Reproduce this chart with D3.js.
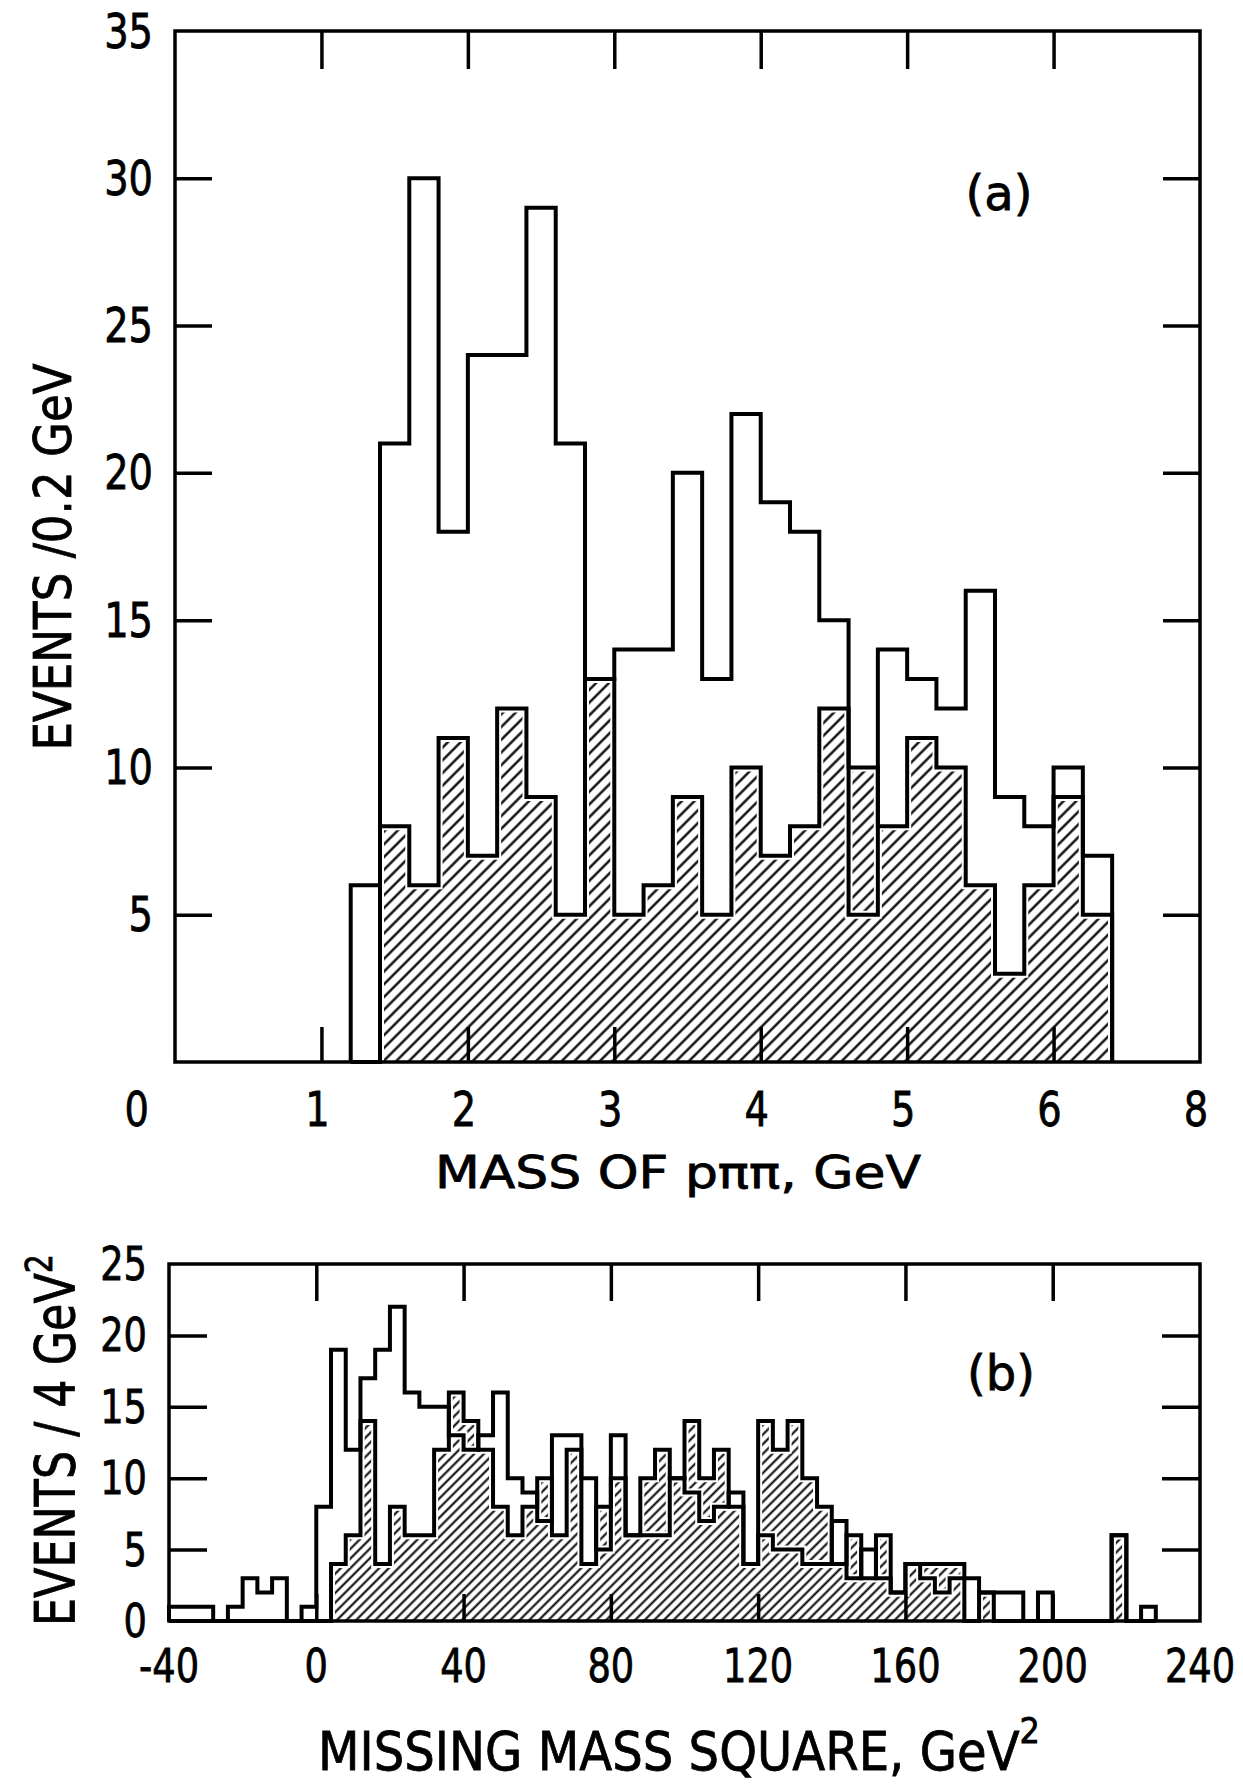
<!DOCTYPE html>
<html>
<head>
<meta charset="utf-8">
<script src="https://cdn.jsdelivr.net/npm/d3@7"></script>
<style>
body { margin: 0; background: #fff; }
svg text { font-family: "DejaVu Sans", sans-serif; fill: #000; stroke: #000; stroke-width: 0.8px; }
</style>
</head>
<body>
<svg id="fig" width="1243" height="1784"></svg>
<script>
// (a) mass of p pi pi, 0.2 GeV bins starting at 1.2 GeV
var massStart = 1.2, massBin = 0.2;
var massAll     = [6,21,30,18,24,24,29,21,13,14,14,20,13,22,19,18,15,5,14,13,12,16,9,8,10,7];
var massHatched = [0,8,6,11,7,12,9,5,13,5,6,9,5,10,7,8,12,10,8,11,10,6,3,6,9,5];
var massTicks = [0,1,2,3,4,5,6,7];
var massTickLabels = ["0","1","2","3","4","5","6","8"];   // sic, as printed
var evTicksA = [5,10,15,20,25,30,35];

// (b) missing mass square, 4 GeV^2 bins starting at -40
var mmStart = -40, mmBin = 4;
var mmAll = [1,1,1,0,1,3,2,3,0,1,
             8,19,12,17,19,22,16,15,15,13,
             12,13,16,10,9,7,13,13,10,5,
             13,6,6,6,10,9,7,8,9,4,
             6,5,5,4,4,7,3,5,3,2,
             4,3,2,3,3,2,2,2,0,2,
             0,0,0,0,6,0,1];
var mmHatched = [0,0,0,0,0,0,0,0,0,0,
                 0,4,6,14,4,8,6,6,12,16,
                 14,12,8,6,8,10,6,12,4,8,
                 10,6,10,12,10,14,10,12,8,4,
                 14,12,14,10,8,4,6,3,6,2,
                 4,4,4,4,0,2,0,0,0,0,
                 0,0,0,0,6,0,0];
var mmTicks = [-40,0,40,80,120,160,200,240];
var evTicksB = [0,5,10,15,20,25];

var svg = d3.select("#fig");
var defs = svg.append("defs");

function hatch(id, gap, w) {
    defs.append("pattern")
        .attr("id", id)
        .attr("patternUnits", "userSpaceOnUse")
        .attr("width", gap).attr("height", gap)
        .attr("patternTransform", "rotate(45)")
        .append("line")
        .attr("x1", gap / 2).attr("x2", gap / 2)
        .attr("y1", 0).attr("y2", gap)
        .attr("stroke", "#000").attr("stroke-width", w);
}
hatch("hatchA", 9, 2.3);
hatch("hatchB", 6.8, 2);

function stepPoints(start, bin, vals) {
    var pts = [[start, 0]];
    vals.forEach(function (v, i) {
        pts.push([start + i * bin, v]);
        pts.push([start + (i + 1) * bin, v]);
    });
    pts.push([start + vals.length * bin, 0]);
    return pts;
}

// condensed lettering: horizontal squeeze on each label
function label(g, x, y, txt, size, sx, anchor) {
    return g.append("text")
        .attr("transform", "translate(" + x + "," + y + ") scale(" + sx + ",1)")
        .attr("text-anchor", anchor || "middle")
        .attr("dominant-baseline", "central")
        .style("font-size", size + "px")
        .text(txt);
}

function panel(o) {
    var x = o.x, y = o.y;
    var g = svg.append("g");
    var x0 = x.domain()[0], x1 = x.domain()[1];
    var y0 = y.domain()[0], y1 = y.domain()[1];

    var line = d3.line().x(function (d) { return x(d[0]); }).y(function (d) { return y(d[1]); });
    var area = d3.area().x(function (d) { return x(d[0]); }).y0(y(0)).y1(function (d) { return y(d[1]); });

    var hp = stepPoints(o.start, o.bin, o.hatched);
    var ap = stepPoints(o.start, o.bin, o.all);

    g.append("path").attr("d", area(hp)).attr("fill", "url(#" + o.pattern + ")");
    // white halo so outlines stand off the hatching
    [hp, ap].forEach(function (p) {
        g.append("path").attr("d", line(p)).attr("fill", "none")
            .attr("stroke", "#fff").attr("stroke-width", 8).attr("stroke-linejoin", "miter");
    });
    [hp, ap].forEach(function (p) {
        g.append("path").attr("d", line(p)).attr("fill", "none")
            .attr("stroke", "#000").attr("stroke-width", 4).attr("stroke-linejoin", "miter");
    });

    // inward ticks on all four sides
    var ax = [
        [d3.axisBottom(x).tickValues(o.xTickIn).tickSize(o.tlen[0]), "translate(0," + y(y1) + ")"],
        [d3.axisTop(x).tickValues(o.xTickIn).tickSize(o.tlen[1]), "translate(0," + y(y0) + ")"],
        [d3.axisRight(y).tickValues(o.yTickIn).tickSize(o.tlen[2]), "translate(" + x(x0) + ",0)"],
        [d3.axisLeft(y).tickValues(o.yTickIn).tickSize(o.tlen[2]), "translate(" + x(x1) + ",0)"]
    ];
    ax.forEach(function (a) {
        var s = g.append("g").attr("transform", a[1]).call(a[0].tickFormat("").tickSizeOuter(0));
        s.select(".domain").remove();
        s.selectAll("line").attr("stroke", "#000").attr("stroke-width", 3.5);
    });

    g.append("rect")
        .attr("x", x(x0)).attr("y", y(y1))
        .attr("width", x(x1) - x(x0)).attr("height", y(y0) - y(y1))
        .attr("fill", "none").attr("stroke", "#000").attr("stroke-width", 3.5);
    return g;
}

// ---- panel (a)
var xa = d3.scaleLinear().domain([0, 7]).range([175, 1200]);
var ya = d3.scaleLinear().domain([0, 35]).range([1062, 31]);
var ga = panel({
    x: xa, y: ya, start: massStart, bin: massBin,
    all: massAll, hatched: massHatched, pattern: "hatchA",
    xTickIn: [1, 2, 3, 4, 5, 6], yTickIn: [5, 10, 15, 20, 25, 30],
    tlen: [38, 35, 37]
});
evTicksA.forEach(function (v) { label(ga, 153, ya(v), String(v), 48, 0.8, "end"); });
massTicks.forEach(function (v, i) {
    if (i === 0) label(ga, xa(v) - 26, 1109, massTickLabels[i], 48, 0.8, "end");
    else label(ga, xa(v) - 4, 1109, massTickLabels[i], 48, 0.8);
});
ga.append("text").attr("x", 999).attr("y", 210).attr("text-anchor", "middle")
    .style("font-size", "48px").text("(a)");
ga.append("text").attr("x", 678).attr("y", 1188).attr("text-anchor", "middle")
    .attr("textLength", 486).attr("lengthAdjust", "spacingAndGlyphs")
    .style("font-size", "44px").text("MASS OF p\u03C0\u03C0, GeV");
ga.append("text").attr("transform", "translate(71,557) rotate(-90)").attr("text-anchor", "middle")
    .attr("textLength", 387).attr("lengthAdjust", "spacingAndGlyphs")
    .style("font-size", "52px").text("EVENTS /0.2 GeV");

// ---- panel (b)
var xb = d3.scaleLinear().domain([-40, 240]).range([169, 1200]);
var yb = d3.scaleLinear().domain([0, 25]).range([1621, 1264]);
var gb = panel({
    x: xb, y: yb, start: mmStart, bin: mmBin,
    all: mmAll, hatched: mmHatched, pattern: "hatchB",
    xTickIn: [0, 40, 80, 120, 160, 200], yTickIn: [5, 10, 15, 20],
    tlen: [37, 27, 38]
});
evTicksB.forEach(function (v) { label(gb, 147, yb(v), String(v), 46, 0.8, "end"); });
mmTicks.forEach(function (v) { label(gb, xb(v), 1666, String(v), 46, 0.8); });
gb.append("text").attr("x", 1001).attr("y", 1390).attr("text-anchor", "middle")
    .style("font-size", "48px").text("(b)");

var xt = gb.append("text").attr("x", 318).attr("y", 1770)
    .attr("textLength", 722).attr("lengthAdjust", "spacingAndGlyphs")
    .style("font-size", "54px");
xt.append("tspan").text("MISSING MASS SQUARE, GeV");
xt.append("tspan").attr("dy", -27).style("font-size", "36px").text("2");

var yt = gb.append("text").attr("transform", "translate(74,1626) rotate(-90)")
    .attr("textLength", 372).attr("lengthAdjust", "spacingAndGlyphs")
    .style("font-size", "56px");
yt.append("tspan").text("EVENTS / 4 GeV");
yt.append("tspan").attr("dy", -22).style("font-size", "38px").text("2");
</script>
</body>
</html>
